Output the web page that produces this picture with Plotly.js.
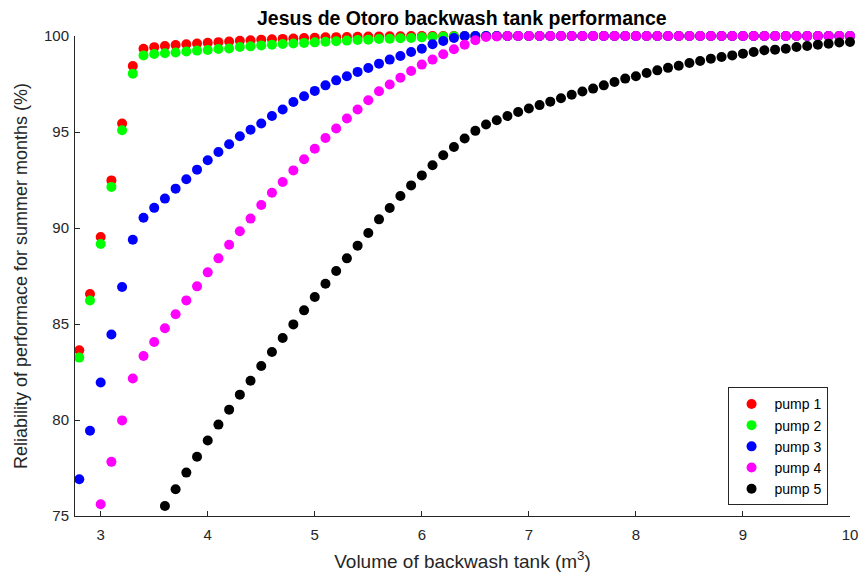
<!DOCTYPE html>
<html>
<head>
<meta charset="utf-8">
<script src="https://cdn.plot.ly/plotly-3.0.1.min.js"></script>
<style>html,body{margin:0;padding:0;background:#fff;}#chart{width:860px;height:575px;}</style>
</head>
<body>
<div id="chart"></div>
<script>
const volume = [2.8,2.9,3.0,3.1,3.2,3.3,3.4,3.5,3.6,3.7,3.8,3.9,4.0,4.1,4.2,4.3,4.4,4.5,4.6,4.7,4.8,4.9,
  5.0,5.1,5.2,5.3,5.4,5.5,5.6,5.7,5.8,5.9,6.0,6.1,6.2,6.3,6.4,6.5,6.6,6.7,6.8,6.9,
  7.0,7.1,7.2,7.3,7.4,7.5,7.6,7.7,7.8,7.9,8.0,8.1,8.2,8.3,8.4,8.5,8.6,8.7,8.8,8.9,
  9.0,9.1,9.2,9.3,9.4,9.5,9.6,9.7,9.8,9.9,10.0];

const pump1 = [83.63,86.56,89.53,92.48,95.44,98.44,99.34,99.42,99.48,99.53,99.57,99.61,99.65,99.68,99.71,99.75,99.78,99.81,99.83,99.85,99.87,99.89,
  99.91,99.93,99.94,99.95,99.96,99.97,99.98,99.99,99.99,100,100,100,100,100,100,100,100,100,100,100,
  100,100,100,100,100,100,100,100,100,100,100,100,100,100,100,100,100,100,100,100,
  100,100,100,100,100,100,100,100,100,100,100];

const pump2 = [83.25,86.22,89.17,92.14,95.09,98.04,98.99,99.06,99.10,99.14,99.19,99.24,99.27,99.32,99.35,99.43,99.46,99.51,99.55,99.58,99.61,99.64,
  99.67,99.70,99.73,99.76,99.79,99.81,99.84,99.86,99.88,99.90,99.93,99.95,99.97,99.99,100,100,100,100,100,100,
  100,100,100,100,100,100,100,100,100,100,100,100,100,100,100,100,100,100,100,100,
  100,100,100,100,100,100,100,100,100,100,100];

const pump3 = [76.91,79.44,81.95,84.45,86.93,89.39,90.53,91.05,91.53,92.05,92.54,93.04,93.53,93.96,94.36,94.78,95.12,95.44,95.83,96.17,96.56,96.86,
  97.14,97.43,97.69,97.90,98.13,98.33,98.56,98.77,98.96,99.17,99.34,99.57,99.74,99.90,100,100,100,100,100,100,
  100,100,100,100,100,100,100,100,100,100,100,100,100,100,100,100,100,100,100,100,
  100,100,100,100,100,100,100,100,100,100,100];

const pump4 = [null,null,75.61,77.82,79.98,82.16,83.33,84.06,84.78,85.51,86.23,86.96,87.69,88.42,89.13,89.83,90.49,91.20,91.84,92.40,93.00,93.58,
  94.13,94.69,95.18,95.70,96.17,96.65,97.12,97.47,97.83,98.18,98.51,98.77,99.05,99.31,99.55,99.78,99.95,99.98,100,100,
  100,100,100,100,100,100,100,100,100,100,100,100,100,100,100,100,100,100,100,100,
  100,100,100,100,100,100,100,100,100,100,100];

const pump5 = [null,null,null,null,null,null,null,null,75.52,76.39,77.26,78.09,78.93,79.76,80.54,81.32,82.04,82.81,83.54,84.27,84.98,85.71,
  86.41,87.10,87.76,88.42,89.08,89.74,90.45,91.04,91.67,92.22,92.74,93.27,93.79,94.22,94.66,95.06,95.39,95.61,95.83,96.04,
  96.22,96.40,96.58,96.76,96.94,97.11,97.26,97.43,97.60,97.78,97.90,98.07,98.21,98.34,98.45,98.59,98.70,98.82,98.91,98.99,
  99.08,99.17,99.26,99.29,99.34,99.43,99.48,99.55,99.60,99.66,99.69];

const seriesNames = ["pump 1","pump 2","pump 3","pump 4","pump 5"];
const seriesValues = [pump1,pump2,pump3,pump4,pump5];
const seriesColors = ["#ff0000","#00ff00","#0000ff","#ff00ff","#000000"];
const xTicks = [3,4,5,6,7,8,9,10];
const yTicks = [75,80,85,90,95,100];

const traces = seriesValues.map((vals,i)=>({
  type:"scatter", mode:"markers", x:volume, y:vals, name:seriesNames[i],
  marker:{color:seriesColors[i], size:10, line:{width:0}},
  cliponaxis:false
}));

const axisColor = "#262626";
const fontFam = "Liberation Sans, Arial, sans-serif";

const layout = {
  width:860, height:575,
  paper_bgcolor:"#ffffff", plot_bgcolor:"#ffffff",
  margin:{l:75, r:10, t:36, b:59, pad:0},
  font:{family:fontFam, color:axisColor, size:14},
  title:{text:"<b>Jesus de Otoro backwash tank performance</b>", font:{family:fontFam, size:19.5, color:"#000000"},
    x:0.537, xanchor:"center", y:0.968, yref:"container", yanchor:"middle"},
  xaxis:{range:[2.76,10], tickvals:xTicks, ticks:"inside", ticklen:5, tickcolor:axisColor,
    showline:true, linecolor:axisColor, linewidth:1, mirror:false, showgrid:false, zeroline:false,
    tickfont:{size:15, color:axisColor}, ticklabelstandoff:5,
    title:{text:"Volume of backwash tank (m<sup>3</sup>)", font:{size:19, color:axisColor}, standoff:12}},
  yaxis:{range:[75,100], tickvals:yTicks, ticks:"inside", ticklen:5, tickcolor:axisColor,
    showline:true, linecolor:axisColor, linewidth:1, mirror:false, showgrid:false, zeroline:false,
    tickfont:{size:15, color:axisColor}, ticklabelstandoff:2,
    title:{text:"Reliability of performace for summer months (%)", font:{size:18, color:axisColor}, standoff:11}},
  legend:{x:0.842, xanchor:"left", y:0.268, yanchor:"top", bgcolor:"#ffffff",
    bordercolor:axisColor, borderwidth:1, font:{size:14, color:"#000000"}, itemwidth:36},
  showlegend:true
};

Plotly.newPlot("chart", traces, layout, {displayModeBar:false, staticPlot:true});
</script>
</body>
</html>
